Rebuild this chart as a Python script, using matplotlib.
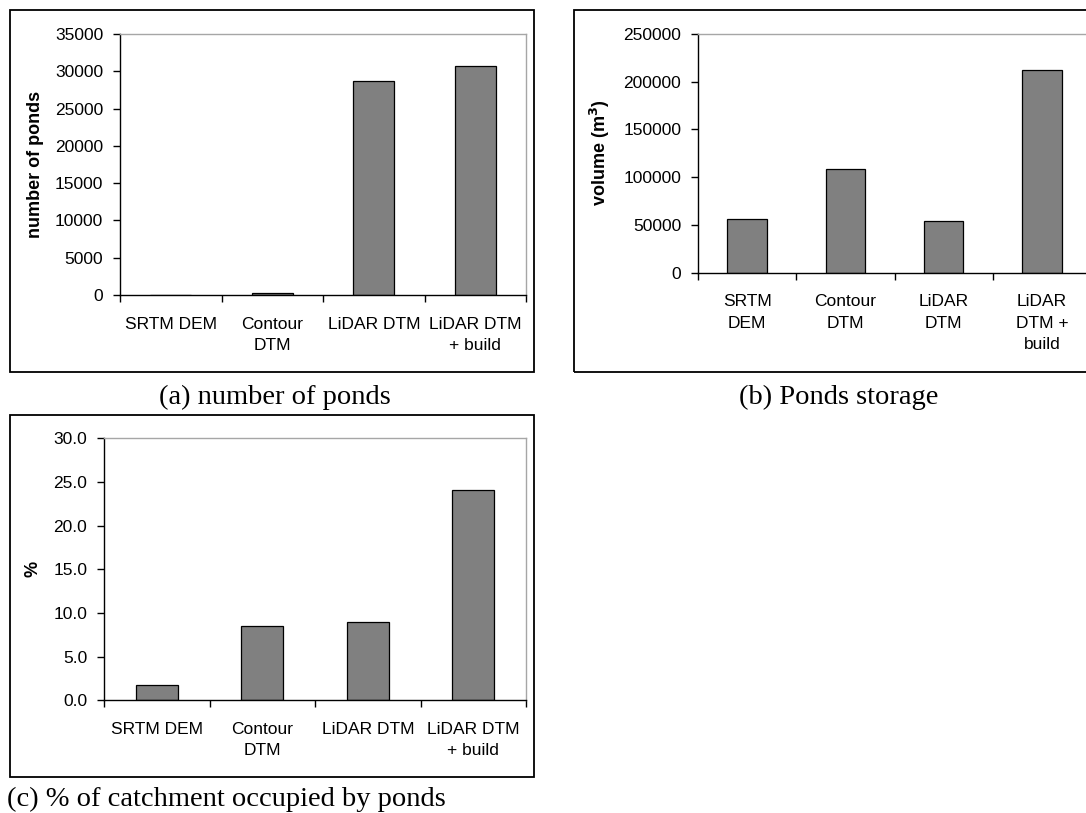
import matplotlib
matplotlib.use("Agg")
from matplotlib import pyplot as plt
from matplotlib.patches import Rectangle
import numpy as np

W, H = 1086, 813

methods_a = ["SRTM DEM", "Contour\nDTM", "LiDAR DTM", "LiDAR DTM\n+ build"]
methods_b = ["SRTM\nDEM", "Contour\nDTM", "LiDAR\nDTM", "LiDAR\nDTM +\nbuild"]
methods_c = ["SRTM DEM", "Contour\nDTM", "LiDAR DTM", "LiDAR DTM\n+ build"]

pond_count = [15, 330, 28700, 30700]
pond_volume = [56500, 108300, 54100, 212200]
pond_area_pct = [1.7, 8.5, 9.0, 24.1]

plt.rcParams["font.family"] = ["Liberation Sans", "DejaVu Sans"]
SERIF = ["Liberation Serif", "DejaVu Serif"]
BAR_GREY = "#808080"
FRAME_GREY = "#a6a6a6"


def px_axes(fig, left, top, right, bottom):
    """Add axes placed by pixel edges (origin at the top-left)."""
    return fig.add_axes([left / W, 1 - bottom / H, (right - left) / W, (bottom - top) / H])


def px_box(fig, left, top, right, bottom):
    """Black frame drawn round one chart."""
    fig.patches.append(Rectangle((left / W, 1 - bottom / H), (right - left) / W,
                                 (bottom - top) / H, transform=fig.transFigure,
                                 fill=False, edgecolor="black", linewidth=1.3))


def bar_panel(ax, labels, values, ymax, ystep, ylabel, fmt="{:.0f}"):
    x = np.arange(len(values))
    ax.bar(x, values, width=0.4, color=BAR_GREY, edgecolor="black", linewidth=0.9)
    ax.set_xlim(-0.5, len(values) - 0.5)
    ax.set_ylim(0, ymax)

    yt = np.arange(0, ymax + ystep / 2, ystep)
    ax.set_yticks(yt)
    ax.set_yticklabels([fmt.format(v) for v in yt])

    # category boundaries carry the tick marks, the centres carry the names
    ax.set_xticks(np.arange(-0.5, len(values), 1.0))
    ax.set_xticklabels([])
    ax.set_xticks(x, minor=True)
    ax.set_xticklabels(labels, minor=True, fontsize=12.5, linespacing=1.55)
    ax.tick_params(axis="x", which="minor", length=0, pad=15.5)
    ax.tick_params(axis="x", which="major", length=5, width=1, direction="out")
    ax.tick_params(axis="y", length=5, width=1, direction="out", pad=7, labelsize=12.5)

    for side in ("top", "right"):
        ax.spines[side].set_color(FRAME_GREY)
        ax.spines[side].set_linewidth(1.0)
    for side in ("left", "bottom"):
        ax.spines[side].set_color("black")
        ax.spines[side].set_linewidth(1.0)

    ax.set_ylabel(ylabel, fontsize=13, fontweight="bold")


fig = plt.figure(figsize=(W / 100, H / 100), dpi=100)

# (a) number of ponds
px_box(fig, 10, 10, 534, 372)
ax_a = px_axes(fig, 120, 34, 526, 295)
bar_panel(ax_a, methods_a, pond_count, 35000, 5000, "number of ponds")
ax_a.yaxis.set_label_coords(44 / W, 1 - 164.5 / H, transform=fig.transFigure)

# (b) ponds storage
px_box(fig, 574, 10, 1110, 372)
ax_b = px_axes(fig, 698, 34, 1091, 272.7)
bar_panel(ax_b, methods_b, pond_volume, 250000, 50000, "volume (m$^\\mathbf{3}$)")
ax_b.yaxis.set_label_coords(612 / W, 1 - 153 / H, transform=fig.transFigure)

# (c) share of catchment covered by ponds
px_box(fig, 10, 415, 534, 777)
ax_c = px_axes(fig, 104, 438.3, 526, 700.3)
bar_panel(ax_c, methods_c, pond_area_pct, 30, 5, "%", fmt="{:.1f}")
ax_c.yaxis.set_label_coords(42 / W, 1 - 569 / H, transform=fig.transFigure)

# captions under each chart
fig.text(275 / W, 1 - 404 / H, "(a) number of ponds", family=SERIF, fontsize=20.5,
         ha="center", va="baseline")
fig.text(839 / W, 1 - 404 / H, "(b) Ponds storage", family=SERIF, fontsize=20.5,
         ha="center", va="baseline")
fig.text(7 / W, 1 - 806 / H, "(c) % of catchment occupied by ponds", family=SERIF,
         fontsize=20.5, ha="left", va="baseline")

fig.savefig("out.png", dpi=100)
